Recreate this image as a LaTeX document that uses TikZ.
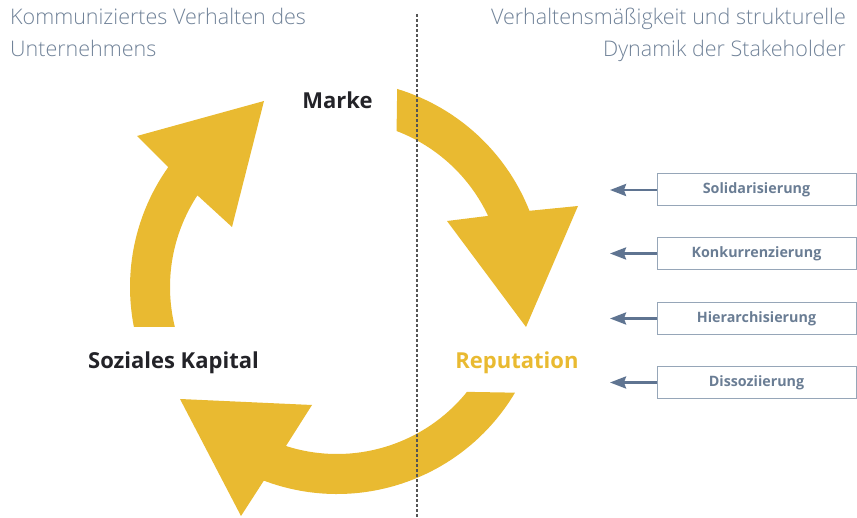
\documentclass[tikz,border=0pt]{standalone}
\usepackage{fontspec}
\setmainfont{Open Sans}
\newfontfamily\headingfont{Open Sans Light}
\usetikzlibrary{arrows.meta}
\definecolor{gold}{RGB}{233,186,49}
\definecolor{slate}{RGB}{112,130,152}
\definecolor{boxline}{RGB}{150,166,184}
\definecolor{boxtext}{RGB}{106,125,148}
\definecolor{arrowblue}{RGB}{95,116,145}
\definecolor{ink}{RGB}{35,35,40}
\definecolor{divider}{RGB}{85,85,85}

\begin{document}
\begin{tikzpicture}[x=1pt,y=1pt,
  heading/.style={text=slate, font=\headingfont\fontsize{21.5}{25}\selectfont, inner sep=0pt},
  stage/.style={font=\bfseries\fontsize{22}{26}\selectfont, inner sep=0pt},
  pattern box/.style={draw=boxline, line width=1pt, minimum width=199pt,
    minimum height=32pt, text=boxtext, font=\bfseries\fontsize{14.3}{16}\selectfont, inner sep=0pt},
  feed/.style={draw=arrowblue, line width=2.5pt, -{Stealth[length=16pt,width=12pt,inset=2pt]}},
  cyclearrow/.style={fill=gold},
  divider line/.style={draw=divider, line width=1.3pt, dash pattern=on 3pt off 2pt}
]
\useasboundingbox (0,0) rectangle (857,517);

% cycle: Marke -> Reputation
\fill[cyclearrow] ([shift={(337,230)}]73.1:207) arc[start angle=73.1, end angle=21.6, radius=207]
  -- (578,311) -- (526,190) -- (447,296)
  -- ([shift={(337,230)}]25.2:167) arc[start angle=25.2, end angle=69.1, radius=167] -- cycle;
% cycle: Reputation -> Soziales Kapital
\fill[cyclearrow] ([shift={(337,230)}]-30.7:207) arc[start angle=-30.7, end angle=-110.7, radius=207]
  -- (241,1) -- (180,118) -- (312,112)
  -- ([shift={(337,230)}]-107.8:167) arc[start angle=-107.8, end angle=-38.9, radius=167] -- cycle;
% cycle: Soziales Kapital -> Marke
\fill[cyclearrow] ([shift={(337,230)}]191.1:207) arc[start angle=191.1, end angle=144.6, radius=207]
  -- (137,381) -- (264,416) -- (232,290)
  -- ([shift={(337,230)}]146.7:167) arc[start angle=146.7, end angle=193.8, radius=167] -- cycle;

% divider
\coordinate (divtop) at (417,503);
\coordinate (divbot) at (417,0);
\draw[divider line] (divtop) -- (divbot);

% headings
\node[heading, anchor=base west] (hl1) at (10,492) {Kommuniziertes Verhalten des};
\node[heading, anchor=base west] (hl2) at (10,460) {Unternehmens};
\node[heading, anchor=base east] (hr1) at (846,492) {Verhaltensmäßigkeit und strukturelle};
\node[heading, anchor=base east] (hr2) at (846,460) {Dynamik der Stakeholder};

% stages of the cycle
\node[stage, text=ink, anchor=base] (marke) at (337.5,408) {Marke};
\node[stage, text=ink, anchor=base] (kapital) at (173.5,148) {Soziales Kapital};
\node[stage, text=gold, anchor=base] (reputation) at (517,148) {Reputation};

% stakeholder dynamics
\node[pattern box] (b1) at (756.5,327) {Solidarisierung};
\node[pattern box] (b2) at (756.5,263.5) {Konkurrenzierung};
\node[pattern box] (b3) at (756.5,198.5) {Hierarchisierung};
\node[pattern box] (b4) at (756.5,134.5) {Dissoziierung};
\coordinate (t1) at (610,327);
\coordinate (t2) at (610,263.5);
\coordinate (t3) at (610,198.5);
\coordinate (t4) at (610,134.5);
\draw[feed] (b1.west) -- (t1);
\draw[feed] (b2.west) -- (t2);
\draw[feed] (b3.west) -- (t3);
\draw[feed] (b4.west) -- (t4);
\end{tikzpicture}
\end{document}
